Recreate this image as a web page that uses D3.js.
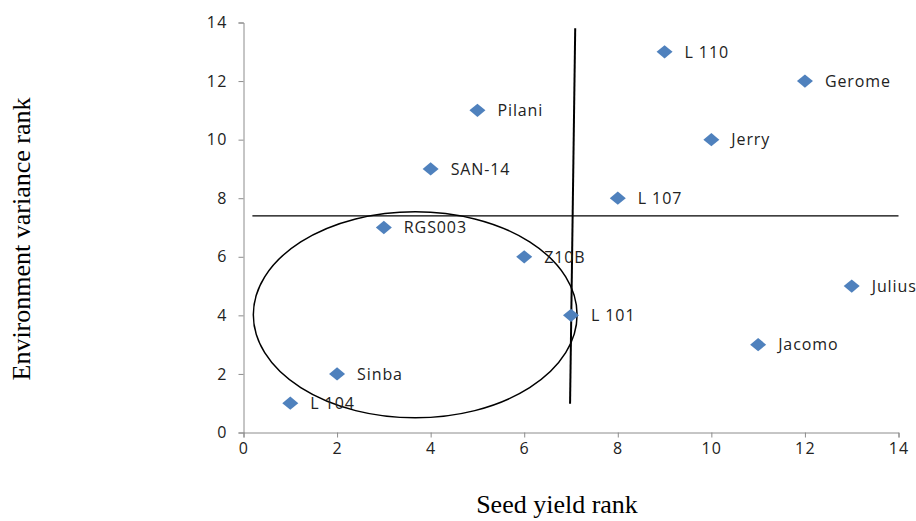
<!DOCTYPE html>
<html>
<head>
<meta charset="utf-8">
<script src="https://cdn.jsdelivr.net/npm/d3@7"></script>
<style>
  body { margin: 0; background: #fff; }
</style>
</head>
<body>
<script>
// scatter of genotype ranks

let w = 916;
let h = 521;

let genotypes = ['L 104', 'Sinba', 'RGS003', 'SAN-14', 'Pilani', 'Z10B', 'L 101', 'L 107', 'L 110', 'Jerry', 'Jacomo', 'Gerome', 'Julius'];
let yieldRank = [1, 2, 3, 4, 5, 6, 7, 8, 9, 10, 11, 12, 13];
let varianceRank = [1, 2, 7, 9, 11, 6, 4, 8, 13, 10, 3, 12, 5];

let xTicks = [0, 2, 4, 6, 8, 10, 12, 14];
let yTicks = [0, 2, 4, 6, 8, 10, 12, 14];

// hand drawn guides, in rank units
let hLine = [[0.19, 7.4], [14, 7.4]];
let vLine = [[7.09, 13.8], [6.98, 0.98]];
let ring = { cx: 3.67, cy: 4.02, rx: 3.46, ry: 3.52 };

let svg = d3.select('body').append('svg')
    .attr('width', w)
    .attr('height', h);

let x = d3.scaleLinear().domain([0, 14]).range([243.5, 898.5]);
let y = d3.scaleLinear().domain([0, 14]).range([432.5, 22.5]);

let tickFont = '"Open Sans", sans-serif';

let xAxis = svg.append('g')
    .attr('transform', 'translate(0,432.5)')
    .call(d3.axisBottom(x).tickValues(xTicks).tickSize(5).tickPadding(5));

let yAxis = svg.append('g')
    .attr('transform', 'translate(243.5,0)')
    .call(d3.axisLeft(y).tickValues(yTicks).tickSize(5).tickPadding(11));

[xAxis, yAxis].forEach(g => {
    g.select('.domain').attr('stroke', '#8c8c8c');
    g.selectAll('.tick line').attr('stroke', '#8c8c8c');
    g.selectAll('.tick text')
        .attr('fill', '#222')
        .style('font-family', tickFont)
        .style('font-size', '16px')
        .style('letter-spacing', '1.2px');
});

let line = d3.line().x(d => x(d[0])).y(d => y(d[1]));

svg.append('path')
    .attr('d', line(hLine))
    .attr('stroke', '#000')
    .attr('stroke-width', 1.3)
    .attr('fill', 'none');

svg.append('path')
    .attr('d', line(vLine))
    .attr('stroke', '#000')
    .attr('stroke-width', 2)
    .attr('fill', 'none');

svg.append('ellipse')
    .attr('cx', x(ring.cx))
    .attr('cy', y(ring.cy))
    .attr('rx', x(ring.rx) - x(0))
    .attr('ry', y(0) - y(ring.ry))
    .attr('stroke', '#000')
    .attr('stroke-width', 1.5)
    .attr('fill', 'none');

let points = genotypes.map((g, i) => ({ name: g, sx: yieldRank[i], sy: varianceRank[i] }));

svg.selectAll('path.dot')
    .data(points)
    .enter()
    .append('path')
    .attr('class', 'dot')
    .attr('d', d3.symbol().type(d3.symbolDiamond2).size(130))
    .attr('transform', d => `translate(${x(d.sx)},${y(d.sy)}) scale(1.12,0.93)`)
    .attr('fill', '#4F81BD');

svg.selectAll('text.lbl')
    .data(points)
    .enter()
    .append('text')
    .attr('class', 'lbl')
    .attr('x', d => x(d.sx) + 20)
    .attr('y', d => y(d.sy))
    .attr('dy', '0.36em')
    .attr('fill', '#222')
    .style('font-family', tickFont)
    .style('font-size', '16px')
    .style('letter-spacing', '0.9px')
    .text(d => d.name);

svg.append('text')
    .attr('x', 557)
    .attr('y', 513)
    .attr('text-anchor', 'middle')
    .style('font-family', '"Liberation Serif", "Times New Roman", serif')
    .style('font-size', '26px')
    .text('Seed yield rank');

svg.append('text')
    .attr('transform', 'translate(30,239) rotate(-90)')
    .attr('text-anchor', 'middle')
    .style('font-family', '"Liberation Serif", "Times New Roman", serif')
    .style('font-size', '26px')
    .text('Environment variance rank');
</script>
</body>
</html>
